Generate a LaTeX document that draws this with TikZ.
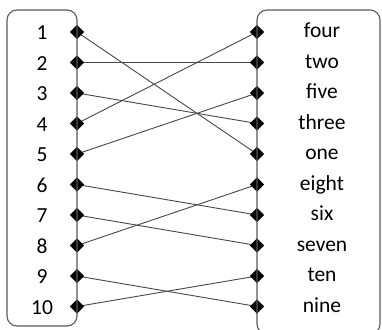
\documentclass[tikz,border=0pt]{standalone}
\usepackage{fontspec}
\setmainfont{Carlito}
\usetikzlibrary{shapes.geometric}
\pgfdeclarelayer{nodelayer}
\pgfdeclarelayer{edgelayer}
\pgfsetlayers{edgelayer,nodelayer,main}
\tikzstyle{dot}=[fill=black, draw=none, shape=diamond, inner sep=0pt, minimum size=14.5pt]
\tikzstyle{number}=[inner sep=0pt, text height=15pt, text depth=0pt, font=\fontsize{21.5}{25}\selectfont]
\tikzstyle{word}=[inner sep=0pt, text height=11pt, text depth=0pt, font=\fontsize{21.5}{25}\selectfont]
\tikzstyle{box}=[draw=black!65, line width=1.1pt, rounded corners=10pt]
\tikzstyle{link}=[draw=black!72, line width=0.9pt]

\begin{document}
\begin{tikzpicture}[x=1pt, y=1pt]
	\useasboundingbox (0, 0) rectangle (382, -329);
	\draw [style=box] (7, -10) rectangle (77, -326);
	\draw [style=box] (257, -10) rectangle (380, -334);
	\begin{pgfonlayer}{nodelayer}
		\node [style=number] (21) at (42, -32) {1};
		\node [style=number] (22) at (42, -62.5) {2};
		\node [style=number] (23) at (42, -93) {3};
		\node [style=number] (24) at (42, -123.5) {4};
		\node [style=number] (25) at (42, -154) {5};
		\node [style=number] (26) at (42, -184.5) {6};
		\node [style=number] (27) at (42, -215) {7};
		\node [style=number] (28) at (42, -245.5) {8};
		\node [style=number] (29) at (42, -276) {9};
		\node [style=number] (30) at (42, -306.5) {10};
		\node [style=word] (31) at (322, -32) {four};
		\node [style=word] (32) at (322, -62.5) {two};
		\node [style=word] (33) at (322, -93) {five};
		\node [style=word] (34) at (322, -123.5) {three};
		\node [style=word] (35) at (322, -154) {one};
		\node [style=word] (36) at (322, -184.5) {eight};
		\node [style=word] (37) at (322, -215) {six};
		\node [style=word] (38) at (322, -245.5) {seven};
		\node [style=word] (39) at (322, -276) {ten};
		\node [style=word] (40) at (322, -306.5) {nine};
		\node [style=dot] (1) at (77, -32) {};
		\node [style=dot] (2) at (77, -62.5) {};
		\node [style=dot] (3) at (77, -93) {};
		\node [style=dot] (4) at (77, -123.5) {};
		\node [style=dot] (5) at (77, -154) {};
		\node [style=dot] (6) at (77, -184.5) {};
		\node [style=dot] (7) at (77, -215) {};
		\node [style=dot] (8) at (77, -245.5) {};
		\node [style=dot] (9) at (77, -276) {};
		\node [style=dot] (10) at (77, -306.5) {};
		\node [style=dot] (11) at (257, -32) {};
		\node [style=dot] (12) at (257, -62.5) {};
		\node [style=dot] (13) at (257, -93) {};
		\node [style=dot] (14) at (257, -123.5) {};
		\node [style=dot] (15) at (257, -154) {};
		\node [style=dot] (16) at (257, -184.5) {};
		\node [style=dot] (17) at (257, -215) {};
		\node [style=dot] (18) at (257, -245.5) {};
		\node [style=dot] (19) at (257, -276) {};
		\node [style=dot] (20) at (257, -306.5) {};
	\end{pgfonlayer}
	\begin{pgfonlayer}{edgelayer}
		\draw [style=link] (1.center) to (15.center);
		\draw [style=link] (2.center) to (12.center);
		\draw [style=link] (3.center) to (14.center);
		\draw [style=link] (4.center) to (11.center);
		\draw [style=link] (5.center) to (13.center);
		\draw [style=link] (6.center) to (17.center);
		\draw [style=link] (7.center) to (18.center);
		\draw [style=link] (8.center) to (16.center);
		\draw [style=link] (9.center) to (20.center);
		\draw [style=link] (10.center) to (19.center);
	\end{pgfonlayer}
\end{tikzpicture}
\end{document}
